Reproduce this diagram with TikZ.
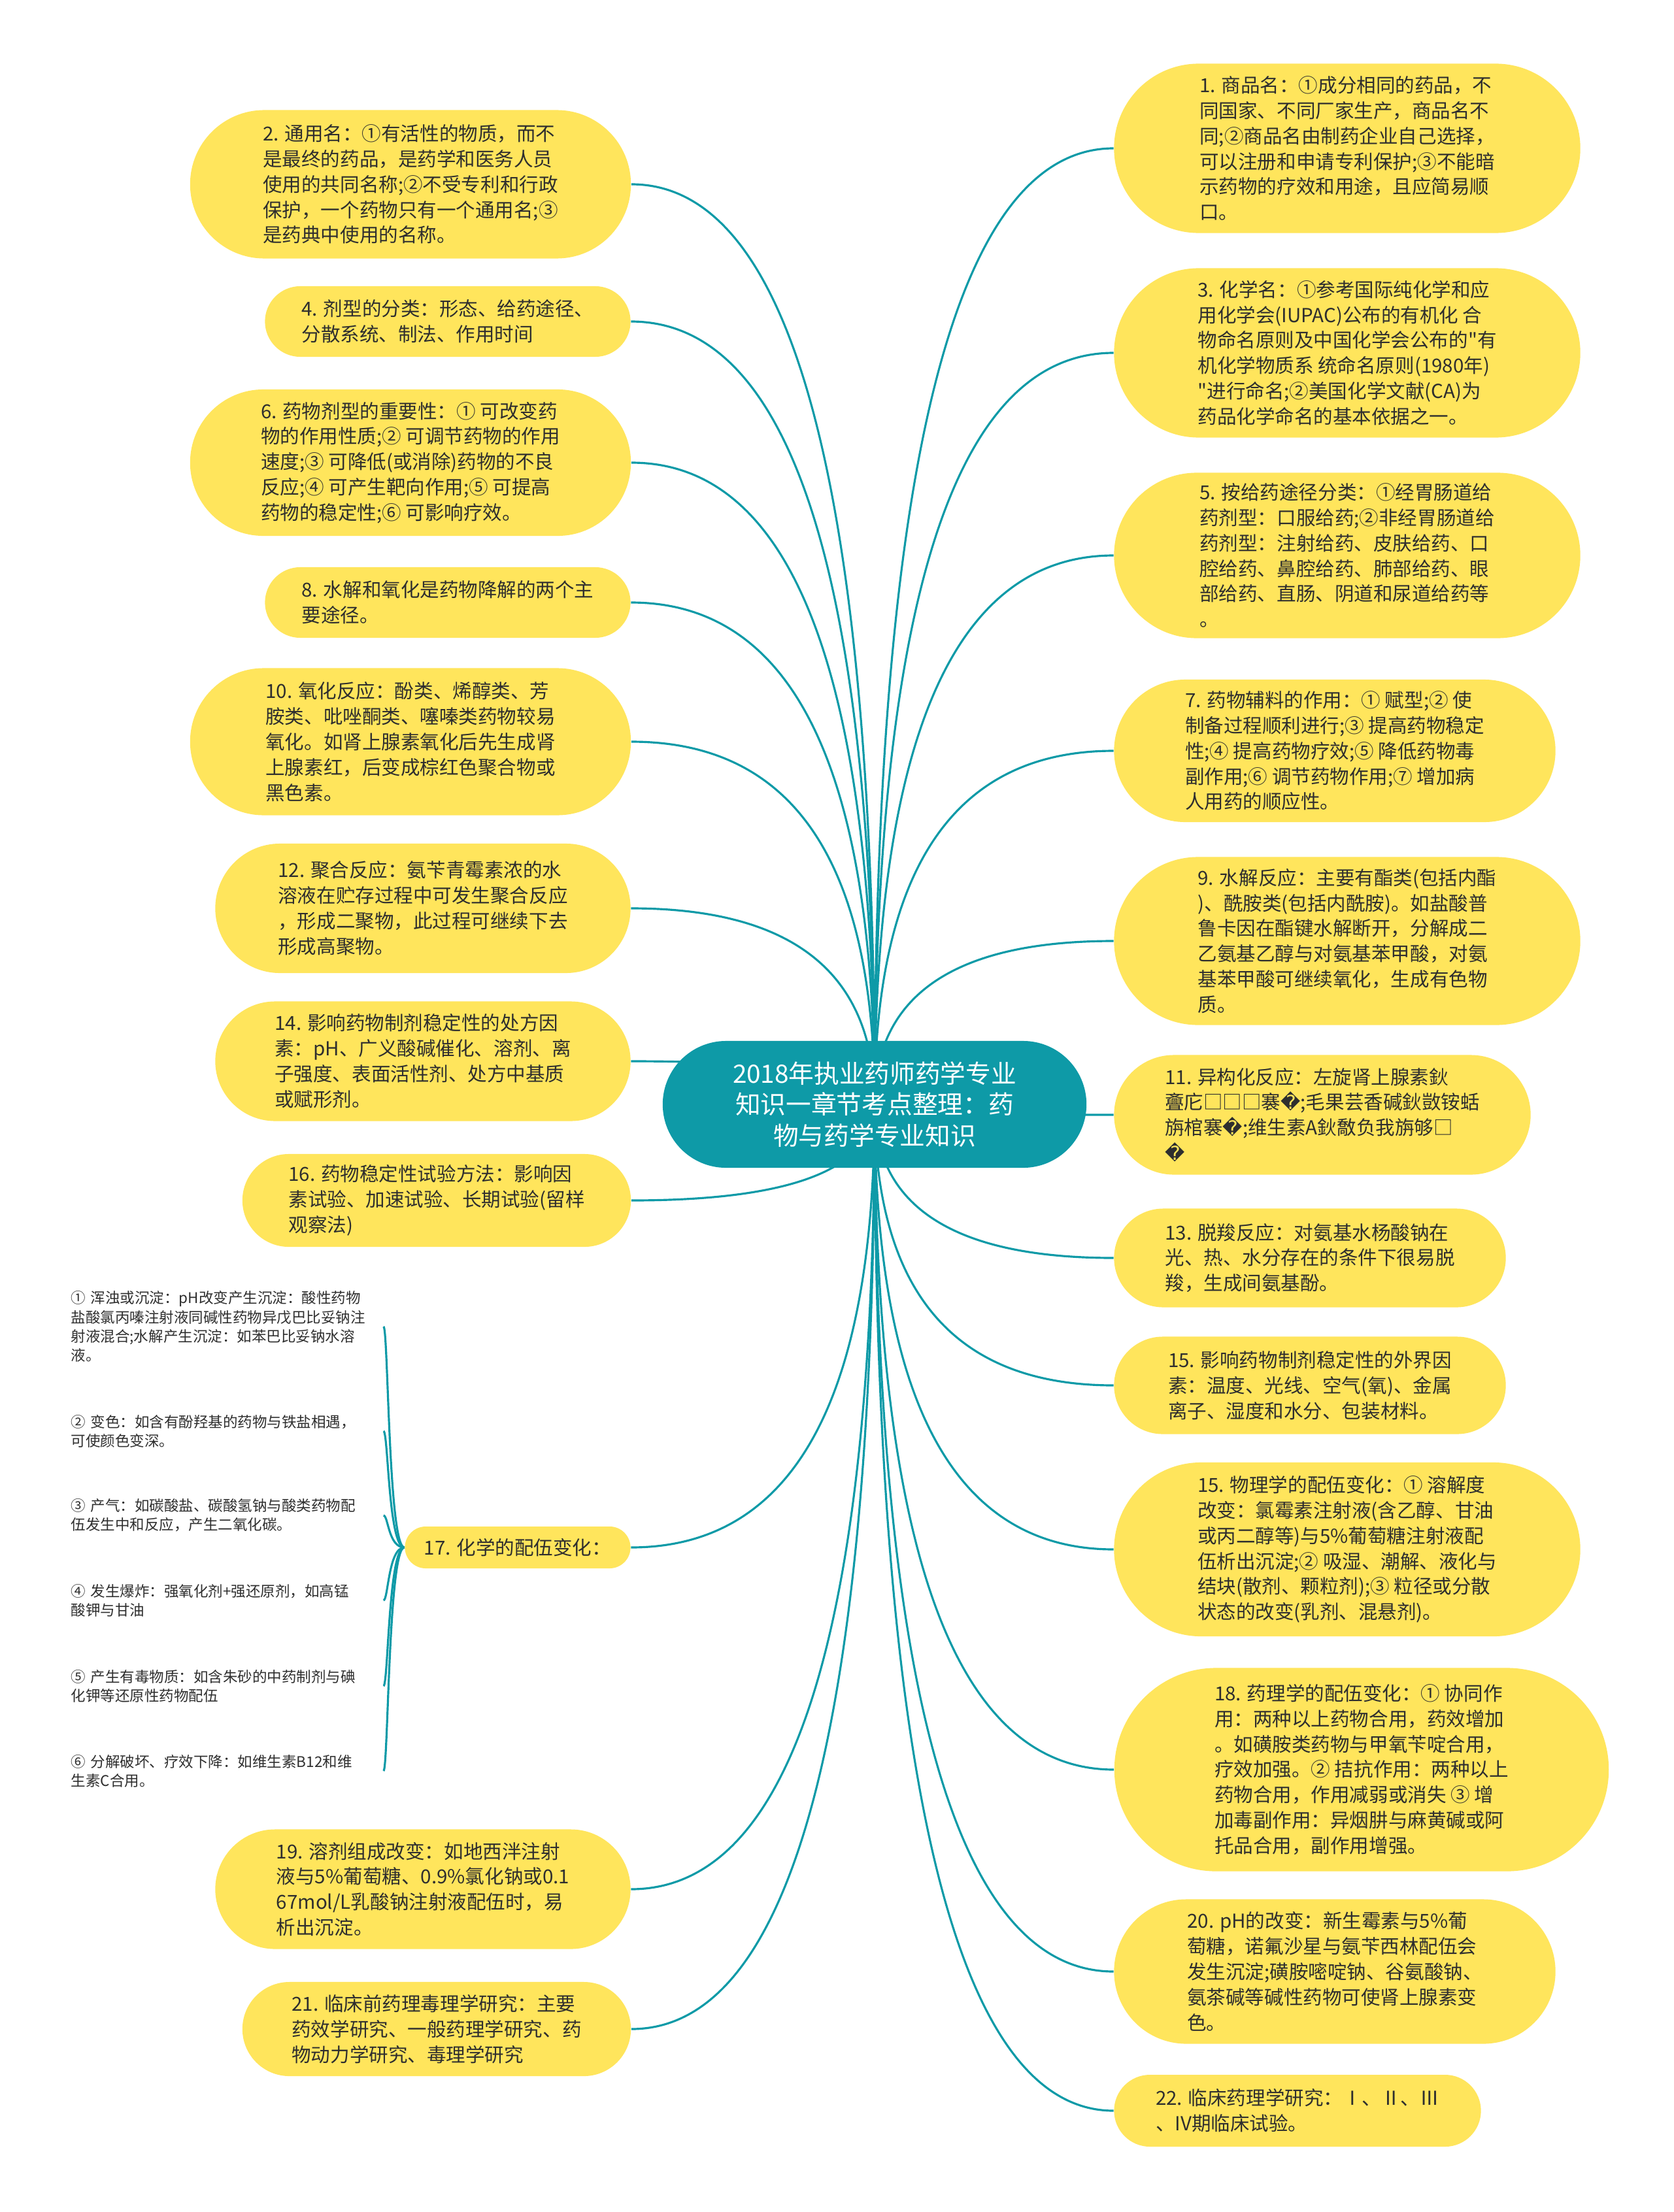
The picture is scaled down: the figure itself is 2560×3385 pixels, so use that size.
\documentclass[tikz,border=0pt]{standalone}
\usepackage{fontspec}
\setmainfont{Noto Sans CJK SC}[Ligatures=TeXOff]
\newfontfamily\repfont{DejaVu Sans}
\usepackage{tikz}
\usetikzlibrary{shapes.misc, backgrounds, calc}
\definecolor{mapteal}{HTML}{0E9AA7}
\definecolor{mapyellow}{HTML}{FFE55C}
\definecolor{mapink}{HTML}{2E2E2E}
\newcommand{\badglyph}{{\repfont\symbol{"FFFD}}}

\begin{document}
\begin{tikzpicture}[
        x=0.01cm, y=-0.01cm,
        hub/.style={rounded rectangle, fill=mapteal, text=white, align=center,
                    font=\fontsize{11}{13.5}\selectfont, inner sep=0pt},
        leaf/.style={rounded rectangle, fill=mapyellow, text=mapink, align=left,
                     font=\fontsize{8.4}{11.05}\selectfont, inner sep=0pt},
        item/.style={anchor=west, align=left, text width=4.7cm, inner sep=0pt,
                     text=mapink, font=\fontsize{6.4}{8.3}\selectfont},
        link/.style={draw=mapteal, line width=0.9pt}
    ]
        \useasboundingbox (0,0) rectangle (2560,3385);

        % centre
        \node[hub, minimum width=6.48cm, minimum height=1.94cm] (root) at (1338,1690)
            {2018年执业药师药学专业\\知识一章节考点整理：药\\物与药学专业知识};

        % left side
        \node[leaf, minimum width=6.74cm, minimum height=2.27cm] (l2) at (628,282)
            {2. 通用名：①有活性的物质，而不\\是最终的药品，是药学和医务人员\\使用的共同名称;②不受专利和行政\\保护，一个药物只有一个通用名;③\\是药典中使用的名称。};
        \node[leaf, minimum width=5.59cm, minimum height=1.08cm] (l4) at (685,492)
            {4. 剂型的分类：形态、给药途径、\\分散系统、制法、作用时间};
        \node[leaf, minimum width=6.74cm, minimum height=2.24cm] (l6) at (628,708)
            {6. 药物剂型的重要性：① 可改变药\\物的作用性质;② 可调节药物的作用\\速度;③ 可降低(或消除)药物的不良\\反应;④ 可产生靶向作用;⑤ 可提高\\药物的稳定性;⑥ 可影响疗效。};
        \node[leaf, minimum width=5.59cm, minimum height=1.08cm] (l8) at (685,922)
            {8. 水解和氧化是药物降解的两个主\\要途径。};
        \node[leaf, minimum width=6.74cm, minimum height=2.25cm] (l10) at (628,1135)
            {10. 氧化反应：酚类、烯醇类、芳\\胺类、吡唑酮类、噻嗪类药物较易\\氧化。如肾上腺素氧化后先生成肾\\上腺素红，后变成棕红色聚合物或\\黑色素。};
        \node[leaf, minimum width=6.35cm, minimum height=1.98cm] (l12) at (647,1390)
            {12. 聚合反应：氨苄青霉素浓的水\\溶液在贮存过程中可发生聚合反应\\，形成二聚物，此过程可继续下去\\形成高聚物。};
        \node[leaf, minimum width=6.35cm, minimum height=1.83cm] (l14) at (647,1624)
            {14. 影响药物制剂稳定性的处方因\\素：pH、广义酸碱催化、溶剂、离\\子强度、表面活性剂、处方中基质\\或赋形剂。};
        \node[leaf, minimum width=5.94cm, minimum height=1.42cm] (l16) at (668,1837)
            {16. 药物稳定性试验方法：影响因\\素试验、加速试验、长期试验(留样\\观察法)};
        \node[leaf, minimum width=3.45cm, minimum height=0.64cm] (l17) at (792,2368)
            {17. 化学的配伍变化：};
        \node[leaf, minimum width=6.35cm, minimum height=1.83cm] (l19) at (647,2891)
            {19. 溶剂组成改变：如地西泮注射\\液与5\%葡萄糖、0.9\%氯化钠或0.1\\67mol/L乳酸钠注射液配伍时，易\\析出沉淀。};
        \node[leaf, minimum width=5.94cm, minimum height=1.44cm] (l21) at (668,3105)
            {21. 临床前药理毒理学研究：主要\\药效学研究、一般药理学研究、药\\物动力学研究、毒理学研究};

        % items of 17
        \node[item] (i1) at (108,2030)
            {① 浑浊或沉淀：pH改变产生沉淀：酸性药物\\盐酸氯丙嗪注射液同碱性药物异戊巴比妥钠注\\射液混合;水解产生沉淀：如苯巴比妥钠水溶\\液。};
        \node[item] (i2) at (108,2190)
            {② 变色：如含有酚羟基的药物与铁盐相遇，\\可使颜色变深。};
        \node[item] (i3) at (108,2319)
            {③ 产气：如碳酸盐、碳酸氢钠与酸类药物配\\伍发生中和反应，产生二氧化碳。};
        \node[item] (i4) at (108,2449)
            {④ 发生爆炸：强氧化剂+强还原剂，如高锰\\酸钾与甘油};
        \node[item] (i5) at (108,2580)
            {⑤ 产生有毒物质：如含朱砂的中药制剂与碘\\化钾等还原性药物配伍};
        \node[item] (i6) at (108,2710)
            {⑥ 分解破坏、疗效下降：如维生素B12和维\\生素C合用。};

        % right side
        \node[leaf, minimum width=7.13cm, minimum height=2.59cm] (r1) at (2061,227)
            {1. 商品名：①成分相同的药品，不\\同国家、不同厂家生产，商品名不\\同;②商品名由制药企业自己选择，\\可以注册和申请专利保护;③不能暗\\示药物的疗效和用途，且应简易顺\\口。};
        \node[leaf, minimum width=7.13cm, minimum height=2.59cm] (r3) at (2061,540)
            {3. 化学名：①参考国际纯化学和应\\用化学会(IUPAC)公布的有机化 合\\物命名原则及中国化学会公布的"有\\机化学物质系 统命名原则(1980年)\\"进行命名;②美国化学文献(CA)为\\药品化学命名的基本依据之一。};
        \node[leaf, minimum width=7.13cm, minimum height=2.53cm] (r5) at (2061,850)
            {5. 按给药途径分类：①经胃肠道给\\药剂型：口服给药;②非经胃肠道给\\药剂型：注射给药、皮肤给药、口\\腔给药、鼻腔给药、肺部给药、眼\\部给药、直肠、阴道和尿道给药等\\。};
        \node[leaf, minimum width=6.75cm, minimum height=2.18cm] (r7) at (2042,1149)
            {7. 药物辅料的作用：① 赋型;② 使\\制备过程顺利进行;③ 提高药物稳定\\性;④ 提高药物疗效;⑤ 降低药物毒\\副作用;⑥ 调节药物作用;⑦ 增加病\\人用药的顺应性。};
        \node[leaf, minimum width=7.13cm, minimum height=2.57cm] (r9) at (2061,1440)
            {9. 水解反应：主要有酯类(包括内酯\\)、酰胺类(包括内酰胺)。如盐酸普\\鲁卡因在酯键水解断开，分解成二\\乙氨基乙醇与对氨基苯甲酸，对氨\\基苯甲酸可继续氧化，生成有色物\\质。};
        \node[leaf, minimum width=6.37cm, minimum height=1.83cm] (r11) at (2023,1706)
            {11. 异构化反应：左旋肾上腺素鈥\\斖庀□□□褰\badglyph;毛果芸香碱鈥敳铵蛞\\旃棺褰\badglyph;维生素A鈥敿负我旃够□\\\badglyph};
        \node[leaf, minimum width=5.99cm, minimum height=1.51cm] (r13) at (2004,1925)
            {13. 脱羧反应：对氨基水杨酸钠在\\光、热、水分存在的条件下很易脱\\羧，生成间氨基酚。};
        \node[leaf, minimum width=5.99cm, minimum height=1.49cm] (r15a) at (2004,2120)
            {15. 影响药物制剂稳定性的外界因\\素：温度、光线、空气(氧)、金属\\离子、湿度和水分、包装材料。};
        \node[leaf, minimum width=7.13cm, minimum height=2.66cm] (r15b) at (2061,2371)
            {15. 物理学的配伍变化：① 溶解度\\改变：氯霉素注射液(含乙醇、甘油\\或丙二醇等)与5\%葡萄糖注射液配\\伍析出沉淀;② 吸湿、潮解、液化与\\结块(散剂、颗粒剂);③ 粒径或分散\\状态的改变(乳剂、混悬剂)。};
        \node[leaf, minimum width=7.56cm, minimum height=3.11cm] (r18) at (2083,2708)
            {18. 药理学的配伍变化：① 协同作\\用：两种以上药物合用，药效增加\\。如磺胺类药物与甲氧苄啶合用，\\疗效加强。② 拮抗作用：两种以上\\药物合用，作用减弱或消失 ③ 增\\加毒副作用：异烟肼与麻黄碱或阿\\托品合用，副作用增强。};
        \node[leaf, minimum width=6.75cm, minimum height=2.21cm] (r20) at (2042,3017)
            {20. pH的改变：新生霉素与5\%葡\\萄糖，诺氟沙星与氨苄西林配伍会\\发生沉淀;磺胺嘧啶钠、谷氨酸钠、\\氨茶碱等碱性药物可使肾上腺素变\\色。};
        \node[leaf, minimum width=5.61cm, minimum height=1.10cm] (r22) at (1985,3230)
            {22. 临床药理学研究：Ⅰ、Ⅱ、Ⅲ\\、IV期临床试验。};

        % connectors
        \begin{scope}[on background layer]
            \foreach \n in {l2,l4,l6,l8,l10,l12,l14,l16,l17,l19,l21} {
                \coordinate (k) at (root.center |- \n.east);
                \draw[link] (root.center) .. controls ($(root.center)!0.667!(k)$) and ($(\n.east)!0.667!(k)$) .. (\n.east);
            }
            \foreach \n in {r1,r3,r5,r7,r9,r11,r13,r15a,r15b,r18,r20,r22} {
                \coordinate (k) at (root.center |- \n.west);
                \draw[link] (root.center) .. controls ($(root.center)!0.667!(k)$) and ($(\n.west)!0.667!(k)$) .. (\n.west);
            }
            \coordinate (trunk) at (594,2368);
            \foreach \n in {i1,i2,i3,i4,i5,i6}
                \draw[link] (l17.west) .. controls (trunk) and (trunk |- \n.east) .. ([xshift=2pt]\n.east);
        \end{scope}
    \end{tikzpicture}
\end{document}
